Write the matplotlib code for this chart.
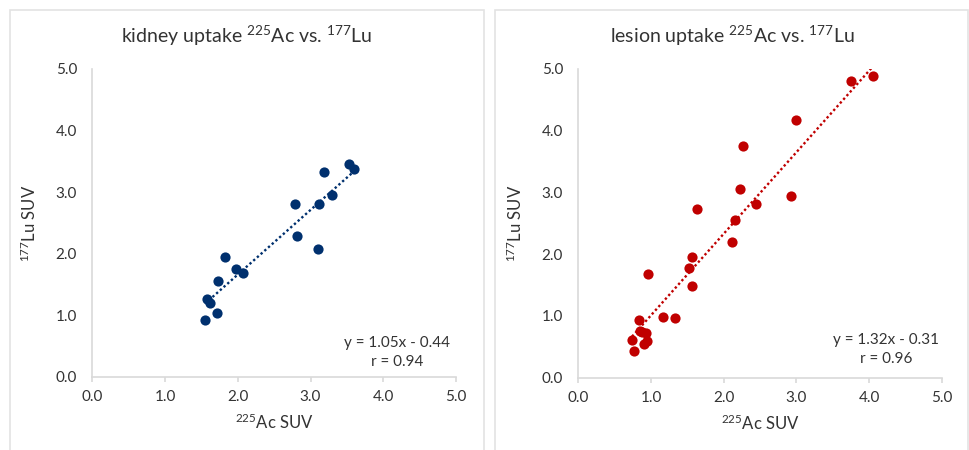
import matplotlib
matplotlib.use('Agg')
import numpy as np
import matplotlib.pyplot as plt
from matplotlib.patches import Rectangle

plt.rcParams['font.family'] = ['Lato', 'DejaVu Sans']
plt.rcParams['mathtext.fontset'] = 'custom'
plt.rcParams['mathtext.rm'] = 'Lato'
plt.rcParams['mathtext.it'] = 'Lato:italic'

# dades llegides del gràfic
kidney_ac = [1.55, 1.58, 1.62, 1.72, 1.73, 1.82, 1.97, 2.07, 2.79, 2.82,
             3.10, 3.12, 3.18, 3.30, 3.53, 3.60]
kidney_lu = [0.92, 1.26, 1.20, 1.03, 1.56, 1.94, 1.75, 1.69, 2.80, 2.28,
             2.08, 2.80, 3.32, 2.96, 3.45, 3.37]

lesion_ac = [4.06, 3.75, 3.00, 2.26, 2.22, 2.93, 2.45, 1.64, 2.15, 2.12,
             1.57, 1.52, 1.56, 0.96, 1.17, 1.33, 0.84, 0.85, 0.93, 0.74,
             0.94, 0.90, 0.77, 0.87]
lesion_lu = [4.88, 4.81, 4.18, 3.76, 3.06, 2.94, 2.82, 2.74, 2.55, 2.19,
             1.95, 1.77, 1.48, 1.68, 0.99, 0.96, 0.94, 0.76, 0.73, 0.61,
             0.60, 0.55, 0.44, 0.74]

kidney_fit = (1.05, -0.44, 0.94)
lesion_fit = (1.32, -0.31, 0.96)

ticks = [0.0, 1.0, 2.0, 3.0, 4.0, 5.0]

text_col = '#333333'
line_col = '#D9D9D9'

fig = plt.figure(figsize=(9.69, 4.5), dpi=100)

# marcs dels dos gràfics
for x0, x1 in [(9.5, 484), (495, 968)]:
    fig.patches.append(Rectangle((x0 / 969, -0.1), (x1 - x0) / 969, 1.1 - 9.8 / 450,
                                 transform=fig.transFigure, fill=False,
                                 edgecolor='#E3E3E3', linewidth=1.2))

panels = [
    ([0.0953, 0.1629, 0.3753, 0.6838], kidney_ac, kidney_lu, kidney_fit, '#00306E',
     'kidney uptake $^{225}$Ac vs. $^{177}$Lu', 246.7 / 969, (0.838, 0.078)),
    ([0.5968, 0.1607, 0.3750, 0.6860], lesion_ac, lesion_lu, lesion_fit, '#C00000',
     'lesion uptake $^{225}$Ac vs. $^{177}$Lu', 732.0 / 969, (0.848, 0.090)),
]

for pos, xs, ys, fit, col, title, tx, (ax_x, ax_y) in panels:
    ax = fig.add_axes(pos)
    ax.scatter(xs, ys, s=54, color=col, zorder=3, linewidths=0)
    a, b, r = fit
    xl = np.array([min(xs), max(xs)])
    ax.plot(xl, a * xl + b, color=col, linewidth=1.7,
            linestyle=(0, (1, 1.1)), zorder=2)
    ax.set_xlim(0, 5)
    ax.set_ylim(0, 5)
    ax.set_xticks(ticks)
    ax.set_yticks(ticks)
    ax.set_xticklabels([f'{t:.1f}' for t in ticks])
    ax.set_yticklabels([f'{t:.1f}' for t in ticks])
    for s in ['top', 'right']:
        ax.spines[s].set_visible(False)
    for s in ['left', 'bottom']:
        ax.spines[s].set_color(line_col)
        ax.spines[s].set_linewidth(1.2)
    ax.tick_params(axis='x', length=3.5, width=1.2, color=line_col,
                   labelsize=11, labelcolor=text_col, pad=6)
    ax.tick_params(axis='y', length=0, labelsize=11, labelcolor=text_col, pad=11)
    ax.set_xlabel('$^{225}$Ac SUV', fontsize=12, color=text_col, labelpad=6)
    ax.set_ylabel('$^{177}$Lu SUV', fontsize=12, color=text_col, labelpad=12)
    ax.text(ax_x, ax_y, f'y = {a:.2f}x - {abs(b):.2f}\nr = {r:.2f}',
            transform=ax.transAxes, ha='center', va='center', fontsize=11,
            color=text_col, linespacing=1.45)
    fig.text(tx, 1 - 36 / 450, title, ha='center', va='center',
             fontsize=14, color=text_col)

plt.savefig('out.png', dpi=100)
